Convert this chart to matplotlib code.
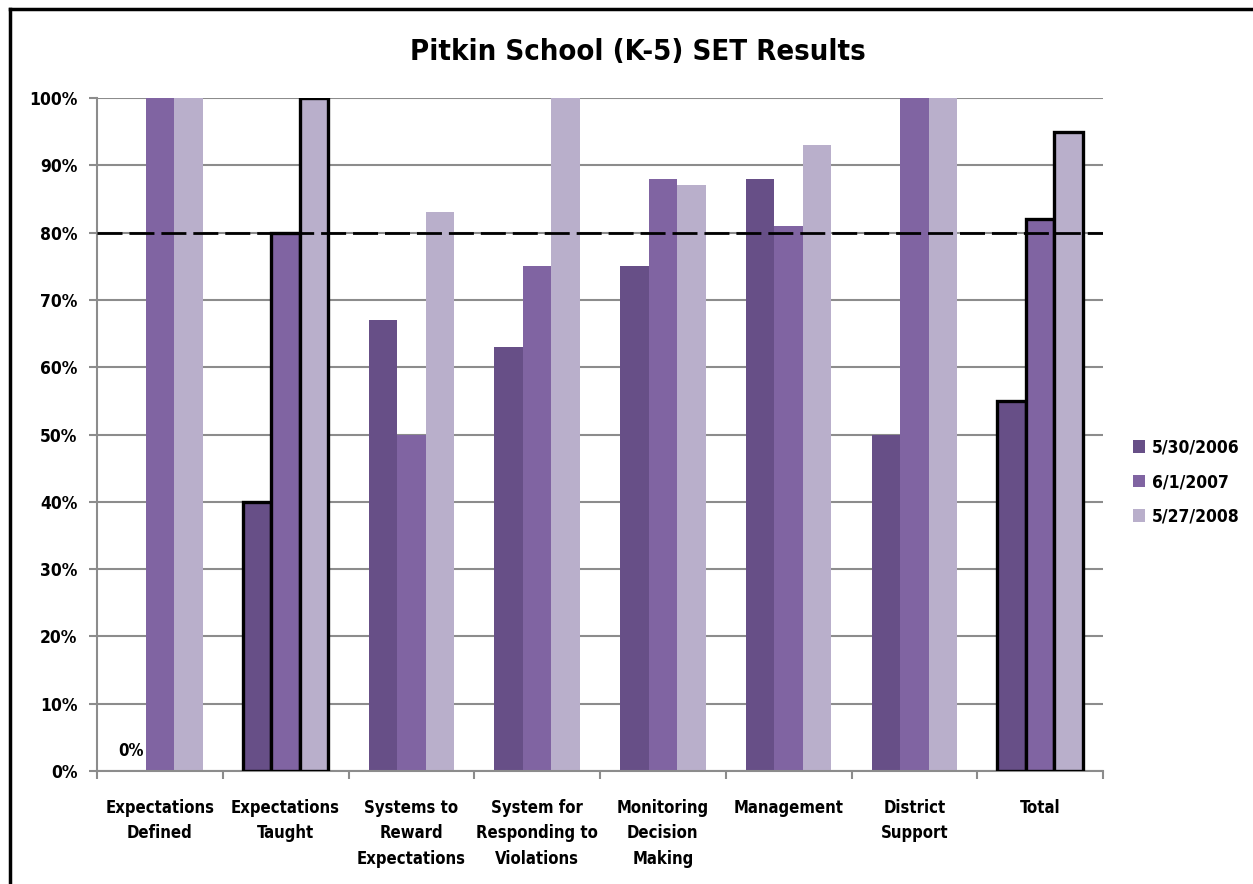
import matplotlib
matplotlib.use("Agg")
import matplotlib.pyplot as plt
from matplotlib.lines import Line2D
from matplotlib.ticker import FuncFormatter, MultipleLocator
import numpy as np

plt.rcParams['font.family'] = ['DejaVu Sans']
plt.rcParams['font.stretch'] = 'condensed'

categories = ["Expectations\nDefined", "Expectations\nTaught", "Systems to\nReward\nExpectations",
              "System for\nResponding to\nViolations", "Monitoring\nDecision\nMaking",
              "Management", "District\nSupport", "Total"]
series_names = ["5/30/2006", "6/1/2007", "5/27/2008"]
v2006 = [0, 40, 67, 63, 75, 88, 50, 55]
v2007 = [100, 80, 50, 75, 88, 81, 100, 82]
v2008 = [100, 100, 83, 100, 87, 93, 100, 95]
target = 80
outlined = ["Expectations\nTaught", "Total"]

colors = ["#674F87", "#8064A2", "#B9AFCB"]

fig = plt.figure(figsize=(12.53, 8.84), dpi=100)
ax = fig.add_axes([97/1253, 1-771/884, (1103-97)/1253, (771-98)/884])

x = np.arange(len(categories))
w = 0.227
for i, (vals, c, name) in enumerate(zip([v2006, v2007, v2008], colors, series_names)):
    pos = x + (i-1)*w
    bars = ax.bar(pos, vals, width=w, color=c, label=name, zorder=2, linewidth=0)
    for b, cat in zip(bars, categories):
        if cat in outlined:
            b.set_edgecolor("black")
            b.set_linewidth(2.4)
            b.set_zorder(3)

ax.text(x[0]-w, 1.6, "0%", ha="center", va="bottom", fontsize=12, fontweight="bold", zorder=5)

ax.axhline(target, color="black", linewidth=2.0, dashes=(9, 2.5), zorder=6)

ax.set_xlim(-0.5, len(categories)-0.5)
ax.set_ylim(0, 100)
ax.yaxis.set_major_locator(MultipleLocator(10))
ax.yaxis.set_major_formatter(FuncFormatter(lambda v, p: f"{int(v)}%"))
ax.grid(axis="y", color="#8C8C8C", linewidth=1.5, zorder=0)
ax.set_axisbelow(True)
for s in ["top", "right"]:
    ax.spines[s].set_visible(False)
for s in ["left", "bottom"]:
    ax.spines[s].set_color("#8C8C8C")
    ax.spines[s].set_linewidth(1.5)

ax.set_xticks(x)
ax.set_xticklabels(categories, fontsize=12, fontweight="bold", linespacing=1.55)
ax.tick_params(axis="x", length=0, pad=20)
ax.set_xticks(np.arange(-0.5, len(categories)+0.5, 1), minor=True)
ax.tick_params(axis="x", which="minor", length=6, width=1.5, color="#8C8C8C", direction="out")
ax.tick_params(axis="y", length=6, width=1.5, color="#8C8C8C", labelsize=12.5, pad=8)
for lab in ax.get_yticklabels():
    lab.set_fontweight("bold")

leg = fig.legend(loc="upper left", bbox_to_anchor=(1117/1253, 1-423/884), frameon=False,
                 handlelength=0.7, handleheight=0.7, handletextpad=0.4, labelspacing=0.95,
                 prop={"size": 12.5, "weight": "bold", "stretch": "condensed"})

fig.text(638/1253, 1-52/884, "Pitkin School (K-5) SET Results", ha="center", va="center",
         fontsize=21, fontweight="bold")

fig.add_artist(Line2D([10/1253, 10/1253], [0, 1-9/884], transform=fig.transFigure, color="black", linewidth=2.5))
fig.add_artist(Line2D([10/1253, 1], [1-9/884, 1-9/884], transform=fig.transFigure, color="black", linewidth=2.5))

fig.savefig("out.png", dpi=100)
